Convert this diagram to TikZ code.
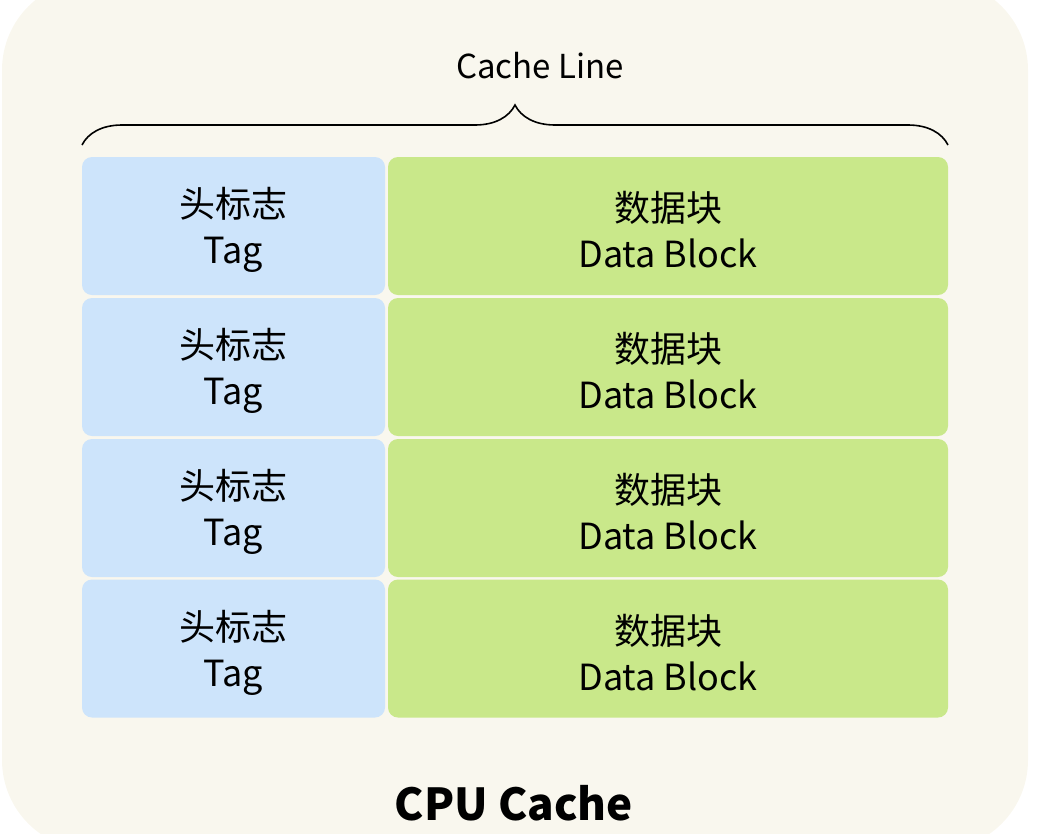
\documentclass[tikz,border=0pt]{standalone}
\usepackage{fontspec}
\setmainfont{Noto Sans CJK SC}
\usetikzlibrary{positioning,decorations.pathreplacing}
\definecolor{bgcream}{HTML}{F9F7EE}
\definecolor{tagblue}{HTML}{CDE4FB}
\definecolor{datagreen}{HTML}{C9E88A}

\begin{document}
\begin{tikzpicture}[x=1pt, y=-1pt,
	cell/.style={rectangle, rounded corners=10, inner sep=0, minimum height=138},
	tagcell/.style={cell, fill=tagblue, minimum width=303},
	datacell/.style={cell, fill=datagreen, minimum width=560},
	celltext/.style={align=center, inner sep=0, font=\fontsize{36}{46}\selectfont},
	]
	\useasboundingbox (0,0) rectangle (1043,833);
	\fill[bgcream, rounded corners=90] (2,-20) rectangle (1028,850);

		%Cells
	\foreach \i/\y in {1/226, 2/367, 3/508, 4/648.5} {
		\node[tagcell]  (tag\i)  at (233.5,\y)  {};
		\node[datacell] (data\i) at (668,\y)    {};
		\node[celltext] (tagtext\i)  at ([yshift=-4]tag\i)  {头标志\\Tag};
		\node[celltext] (datatext\i) at ([yshift=-4]data\i) {数据块\\Data Block};
	}

		%Brace
	\coordinate (braceL) at (82,145);
	\coordinate (braceR) at (948,145);
	\draw[line width=1.6, decorate, decoration={brace, amplitude=40}] (braceL) -- (braceR);
	\node[font=\fontsize{33}{40}\selectfont] (cacheline) at (540,66) {Cache Line};

	\node[font=\fontsize{44}{50}\selectfont\bfseries] (cpucache) at (514,803) {CPU Cache};
\end{tikzpicture}
\end{document}
